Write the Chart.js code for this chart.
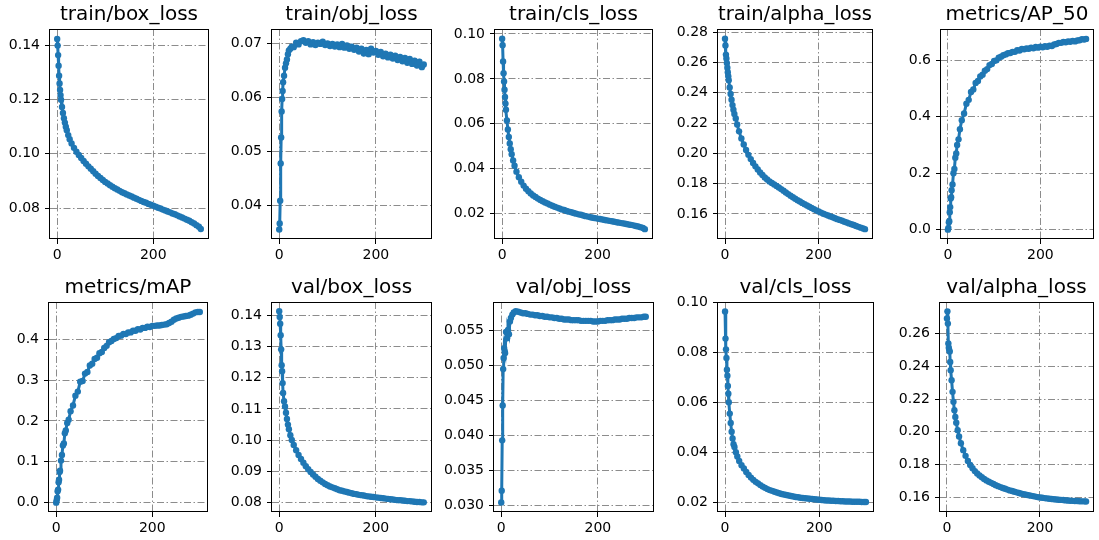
<!DOCTYPE html>
<html>
<head>
<meta charset="utf-8">
<script src="https://cdn.jsdelivr.net/npm/chart.js@4.4.1/dist/chart.umd.min.js"></script>
<style>
  html, body { margin: 0; padding: 0; background: #fff; }
  #fig { position: relative; width: 1099px; height: 540px; overflow: hidden; }
  .panel { position: absolute; }
</style>
</head>
<body>
<div id="fig"></div>
<script>
// --- DATA ---
const epochs = [0,1,2,3,4,5,6,7,8,10,12,14,16,18,20,23,26,
  30,35,40,45,50,55,60,65,70,75,80,85,90,95,
  100,105,110,115,120,125,130,135,140,145,150,155,160,165,170,175,180,185,190,195,
  200,205,210,215,220,225,230,235,240,245,250,255,260,265,270,275,280,285,290,295,299];

const trainBoxLoss = [.1422,.1398,.1363,.1324,.1287,.1259,.1235,.1216,.1199,.1172,.1150,.1131,.1115,.1100,.1087,.1069,.1054,
  .1038,.1022,.1008,.0996,.0985,.0974,.0964,.0954,.0945,.0936,.0927,.0919,.0911,.0904,
  .0897,.0891,.0885,.0879,.0874,.0869,.0864,.0859,.0855,.0851,.0847,.0843,.0839,.0835,.0831,.0827,.0823,.0820,.0816,.0813,
  .0809,.0806,.0802,.0799,.0795,.0792,.0788,.0785,.0781,.0778,.0774,.0770,.0766,.0762,.0758,.0754,.0749,.0744,.0738,.0732,.0724];

const trainObjLoss = [.0356,.0367,.0409,.0478,.0526,.0574,.0597,.0612,.0628,.0640,.0655,.0663,.0670,.0680,.0687,.0690,.0694,
  .0693,.0701,.0698,.0704,.0706,.0701,.0704,.0698,.0702,.0697,.0701,.0699,.0703,.0697,
  .0700,.0695,.0699,.0694,.0698,.0693,.0699,.0692,.0696,.0690,.0694,.0688,.0692,.0685,.0690,.0681,.0688,.0680,.0690,.0683,
  .0686,.0679,.0684,.0676,.0681,.0674,.0679,.0672,.0677,.0669,.0675,.0667,.0673,.0664,.0671,.0662,.0668,.0659,.0666,.0656,.0661];

const trainClsLoss = [.0979,.0950,.0877,.0825,.0788,.0752,.0719,.0690,.0663,.0615,.0575,.0541,.0512,.0487,.0465,.0437,.0413,
  .0387,.0362,.0342,.0325,.0311,.0300,.0290,.0281,.0274,.0267,.0261,.0255,.0250,.0245,
  .0240,.0235,.0231,.0227,.0223,.0219,.0216,.0212,.0209,.0206,.0203,.0200,.0197,.0195,.0192,.0189,.0187,.0184,.0182,.0180,
  .0178,.0176,.0174,.0172,.0170,.0168,.0166,.0164,.0162,.0160,.0158,.0156,.0154,.0152,.0150,.0148,.0145,.0143,.0140,.0136,.0131];

const trainAlphaLoss = [.2756,.2712,.2651,.2625,.2595,.2565,.2535,.2508,.2482,.2435,.2392,.2353,.2318,.2287,.2259,.2230,.2190,
  .2145,.2098,.2058,.2022,.1990,.1962,.1937,.1914,.1893,.1874,.1857,.1841,.1827,.1815,
  .1805,.1795,.1785,.1775,.1764,.1753,.1742,.1731,.1720,.1710,.1700,.1691,.1682,.1673,.1665,.1656,.1648,.1640,.1632,.1624,
  .1616,.1609,.1602,.1596,.1590,.1584,.1578,.1572,.1566,.1561,.1555,.1549,.1544,.1538,.1532,.1527,.1521,.1515,.1510,.1505,.1500];

const metricsAP50 = [.000,.006,.026,.030,.062,.080,.110,.115,.140,.160,.200,.215,.255,.270,.300,.320,.356,
  .388,.412,.446,.460,.488,.497,.520,.527,.543,.549,.563,.569,.583,.587,
  .598,.600,.609,.613,.618,.621,.625,.626,.630,.630,.636,.635,.640,.639,.642,.641,.645,.643,.647,.645,
  .648,.646,.650,.648,.652,.651,.656,.658,.662,.662,.665,.664,.667,.666,.669,.667,.670,.671,.675,.674,.676];

const metricsMAP = [.000,.006,.012,.028,.032,.050,.056,.075,.078,.103,.117,.140,.145,.170,.177,.195,.203,
  .224,.238,.262,.272,.296,.298,.316,.320,.336,.340,.352,.355,.366,.369,
  .379,.384,.393,.396,.401,.403,.408,.409,.413,.413,.417,.417,.421,.421,.425,.424,.428,.428,.431,.430,
  .433,.433,.434,.434,.435,.436,.437,.440,.443,.448,.451,.453,.455,.456,.457,.458,.460,.463,.466,.467,.467];

const valBoxLoss = [.1413,.1395,.1373,.1336,.1291,.1240,.1221,.1183,.1151,.1125,.1108,.1088,.1068,.1050,.1035,.1016,.1001,
  .0985,.0968,.0953,.0940,.0928,.0917,.0907,.0898,.0890,.0883,.0876,.0870,.0865,.0860,
  .0856,.0852,.0849,.0846,.0843,.0840,.0838,.0836,.0834,.0832,.0830,.0828,.0827,.0825,.0824,.0823,.0821,.0820,.0819,.0818,
  .0817,.0816,.0815,.0814,.0813,.0812,.0811,.0810,.0809,.0808,.0808,.0807,.0806,.0805,.0805,.0804,.0803,.0802,.0802,.0801,.0801];

const valObjLoss = [.0304,.0321,.0393,.0443,.0495,.0511,.0525,.0521,.0518,.0548,.0539,.0551,.0545,.0563,.0568,.0573,.0576,
  .0578,.0577,.0576,.0575,.0575,.0574,.0573,.0573,.0572,.0572,.0571,.0571,.0570,.0570,
  .0569,.0569,.0568,.0568,.0567,.0567,.0566,.0566,.0566,.0565,.0565,.0565,.0565,.0564,.0564,.0564,.0564,.0564,.0563,.0563,
  .0563,.0564,.0564,.0564,.0565,.0565,.0565,.0566,.0566,.0566,.0567,.0567,.0567,.0568,.0568,.0568,.0569,.0569,.0569,.0570,.0570];

const valClsLoss = [.0965,.0856,.0813,.0778,.0731,.0707,.0666,.0635,.0601,.0555,.0517,.0482,.0455,.0432,.0421,.0400,.0383,
  .0365,.0348,.0335,.0321,.0309,.0298,.0289,.0281,.0275,.0268,.0262,.0257,.0252,.0248,
  .0245,.0241,.0238,.0235,.0232,.0230,.0228,.0226,.0224,.0222,.0220,.0219,.0217,.0216,.0215,.0214,.0213,.0212,.0211,.0210,
  .0209,.0208,.0207,.0206,.0206,.0205,.0205,.0204,.0204,.0203,.0203,.0202,.0202,.0202,.0201,.0201,.0201,.0201,.0200,.0200,.0200];

const valAlphaLoss = [.2692,.2736,.2661,.2539,.2514,.2498,.2490,.2427,.2376,.2315,.2244,.2183,.2132,.2091,.2055,.2010,.1972,
  .1930,.1888,.1853,.1822,.1797,.1777,.1760,.1745,.1733,.1722,.1712,.1703,.1695,.1688,
  .1681,.1674,.1668,.1662,.1657,.1652,.1647,.1642,.1638,.1634,.1630,.1626,.1622,.1619,.1616,.1613,.1610,.1607,.1604,.1601,
  .1599,.1597,.1595,.1593,.1591,.1589,.1588,.1586,.1585,.1584,.1583,.1581,.1580,.1579,.1578,.1577,.1577,.1576,.1575,.1575,.1574];

const titles = ['train/box_loss', 'train/obj_loss', 'train/cls_loss', 'train/alpha_loss', 'metrics/AP_50',
  'metrics/mAP', 'val/box_loss', 'val/obj_loss', 'val/cls_loss', 'val/alpha_loss'];
const series = [trainBoxLoss, trainObjLoss, trainClsLoss, trainAlphaLoss, metricsAP50,
  metricsMAP, valBoxLoss, valObjLoss, valClsLoss, valAlphaLoss];

const xTickLabels = ['0', '200'];
const yTickLabels = [
  ['0.08', '0.10', '0.12', '0.14'],
  ['0.04', '0.05', '0.06', '0.07'],
  ['0.02', '0.04', '0.06', '0.08', '0.10'],
  ['0.16', '0.18', '0.20', '0.22', '0.24', '0.26', '0.28'],
  ['0.0', '0.2', '0.4', '0.6'],
  ['0.0', '0.1', '0.2', '0.3', '0.4'],
  ['0.08', '0.09', '0.10', '0.11', '0.12', '0.13', '0.14'],
  ['0.030', '0.035', '0.040', '0.045', '0.050', '0.055'],
  ['0.02', '0.04', '0.06', '0.08', '0.10'],
  ['0.16', '0.18', '0.20', '0.22', '0.24', '0.26']
];

// axis limits (matplotlib-style 5% margins)
const xLimits = [-14.95, 313.95];
const yLimits = [
  [0.0687, 0.1459], [0.03384, 0.07265], [0.00872, 0.1022], [0.1435, 0.2820], [-0.0331, 0.711],
  [-0.0229, 0.4914], [0.07701, 0.14427], [0.02905, 0.0591], [0.0160, 0.1003], [0.1510, 0.2793]
];

// --- LAYOUT: plot boxes [left, top, right, bottom] in figure pixels ---
const boxes = [
  [50, 29, 208, 239], [272, 29, 431, 239], [495, 29, 652, 239], [718, 29, 872, 239], [941, 29, 1093, 239],
  [49, 302, 207, 512], [272, 302, 431, 512], [494, 302, 653, 512], [718, 302, 873, 512], [940, 302, 1093, 512]
];
const padL = 50, padT = 29, padR = 6, padB = 30;

Chart.defaults.font.family = "'DejaVu Sans', sans-serif";
Chart.defaults.color = '#000';

const framePlugin = {
  id: 'frame',
  afterDraw(chart) {
    const a = chart.chartArea, c = chart.ctx;
    c.save();
    c.strokeStyle = '#000';
    c.lineWidth = 1;
    c.strokeRect(Math.round(a.left) - 0.5, Math.round(a.top) + 0.5,
      Math.round(a.right - a.left) + 1, Math.round(a.bottom - a.top) - 1);
    c.restore();
  }
};

const gridStyle = {
  color: '#8c8c8c',
  lineWidth: 1,
  borderDash: [7, 2.5, 1.5, 2.5],
  tickLength: 5,
  tickColor: '#000',
  tickWidth: 1
};

const fig = document.getElementById('fig');

series.forEach((vals, i) => {
  const [L, T, R, B] = boxes[i];
  const w = R - L + padL + padR, h = B - T + padT + padB;
  const div = document.createElement('div');
  div.className = 'panel';
  div.style.left = (L - padL) + 'px';
  div.style.top = (T - padT) + 'px';
  const canvas = document.createElement('canvas');
  canvas.width = w; canvas.height = h;
  canvas.style.width = w + 'px'; canvas.style.height = h + 'px';
  div.appendChild(canvas);
  fig.appendChild(div);

  const yLabels = yTickLabels[i];

  new Chart(canvas, {
    type: 'line',
    data: {
      datasets: [{
        data: epochs.map((e, k) => ({ x: e, y: vals[k] })),
        borderColor: '#1f77b4',
        backgroundColor: '#1f77b4',
        borderWidth: 3,
        pointRadius: 3.2,
        pointBorderWidth: 0,
        pointBackgroundColor: '#1f77b4',
        tension: 0
      }]
    },
    options: {
      responsive: false,
      animation: false,
      devicePixelRatio: 1,
      layout: { padding: { left: 0, right: padR, top: 0, bottom: 0 } },
      plugins: {
        legend: { display: false },
        tooltip: { enabled: false },
        title: {
          display: true,
          text: titles[i],
          fullSize: false,
          color: '#000',
          font: { size: 20, weight: 'normal' },
          padding: { top: 3, bottom: 2 }
        }
      },
      scales: {
        x: {
          type: 'linear',
          min: xLimits[0], max: xLimits[1],
          grid: gridStyle,
          border: { display: false, dash: gridStyle.borderDash },
          ticks: {
            autoSkip: false, maxRotation: 0, padding: 3,
            font: { size: 14 }, color: '#000',
            callback: (v, idx) => xTickLabels[idx]
          },
          afterBuildTicks: s => { s.ticks = xTickLabels.map(t => ({ value: parseFloat(t) })); },
          afterFit: s => { s.height = padB; }
        },
        y: {
          type: 'linear',
          min: yLimits[i][0], max: yLimits[i][1],
          grid: gridStyle,
          border: { display: false, dash: gridStyle.borderDash },
          ticks: {
            autoSkip: false, padding: 5,
            font: { size: 14 }, color: '#000',
            callback: (v, idx) => yLabels[idx]
          },
          afterBuildTicks: s => { s.ticks = yLabels.map(t => ({ value: parseFloat(t) })); },
          afterFit: s => { s.width = padL; }
        }
      }
    },
    plugins: [framePlugin]
  });
});
</script>
</body>
</html>
